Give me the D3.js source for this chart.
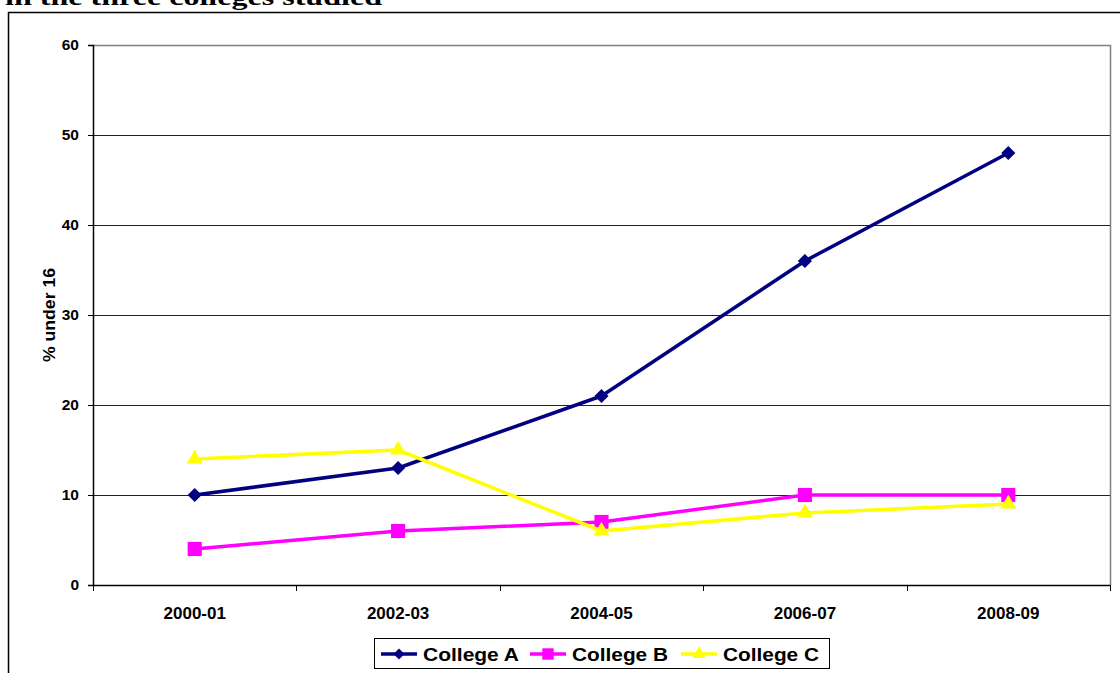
<!DOCTYPE html>
<html>
<head>
<meta charset="utf-8">
<script src="https://cdn.jsdelivr.net/npm/d3@7"></script>
<style>
  html, body { margin: 0; padding: 0; background: #fff; }
  svg { display: block; }
</style>
</head>
<body>
<svg id="chart" width="1120" height="673"></svg>
<script>
// Academic years on the x axis
const years = ["2000-01", "2002-03", "2004-05", "2006-07", "2008-09"];
// Percentage of students under 16, per college
const collegeA = [10, 13, 21, 36, 48];
const collegeB = [4, 6, 7, 10, 10];
const collegeC = [14, 15, 6, 8, 9];
const seriesNames = ["College A", "College B", "College C"];
const yTicks = [0, 10, 20, 30, 40, 50, 60];

const series = [
  { name: seriesNames[0], values: collegeA, color: "#000080", symbol: d3.symbolSquare, size: 100, rotate: 45, legendSize: 60 },
  { name: seriesNames[1], values: collegeB, color: "#FF00FF", symbol: d3.symbolSquare, size: 200, rotate: 0, legendSize: 130 },
  { name: seriesNames[2], values: collegeC, color: "#FFFF00", symbol: d3.symbolTriangle, size: 110, rotate: 0, legendSize: 80 }
];

const svg = d3.select("#chart");
const font = "Arial, 'Liberation Sans', sans-serif";

// Heading line (partly above the frame)
svg.append("text")
  .attr("x", 5).attr("y", 5)
  .attr("font-family", "'Times New Roman', 'Liberation Serif', serif")
  .attr("font-weight", "bold").attr("font-size", 24)
  .attr("textLength", 377).attr("lengthAdjust", "spacingAndGlyphs")
  .text("in the three colleges studied");

// Chart frame
svg.append("rect")
  .attr("x", 8.5).attr("y", 12.5).attr("width", 1130).attr("height", 700)
  .attr("fill", "none").attr("stroke", "#000").attr("stroke-width", 1.5);

const plot = { left: 93, top: 45, right: 1110, bottom: 585 };

const x = d3.scaleBand().domain(years).range([plot.left, plot.right]);
const y = d3.scaleLinear().domain([0, 60]).range([plot.bottom, plot.top]);

// Plot area border (top and right)
svg.append("path")
  .attr("d", `M${plot.left},${plot.top + 0.5}H${plot.right + 0.5}V${plot.bottom}`)
  .attr("fill", "none").attr("stroke", "#808080").attr("stroke-width", 1.5);

// Horizontal gridlines
svg.append("g")
  .selectAll("line")
  .data(yTicks.filter(t => t > 0 && t < 60))
  .join("line")
  .attr("x1", plot.left).attr("x2", plot.right)
  .attr("y1", d => Math.round(y(d)) + 0.5).attr("y2", d => Math.round(y(d)) + 0.5)
  .attr("stroke", "#222").attr("stroke-width", 1);

// Y axis
const yAxis = svg.append("g")
  .attr("transform", `translate(${plot.left},0)`)
  .call(d3.axisLeft(y).tickValues(yTicks).tickSize(5).tickPadding(9));
yAxis.select(".domain").attr("stroke", "#000").attr("stroke-width", 1.5);
yAxis.selectAll(".tick line").attr("stroke", "#000");
yAxis.selectAll("text")
  .attr("font-family", font).attr("font-weight", "bold").attr("font-size", 15.5).attr("fill", "#000");

// X axis with ticks between categories
const xAxis = svg.append("g")
  .attr("transform", `translate(0,${plot.bottom})`)
  .call(d3.axisBottom(x).tickSize(0).tickPadding(22));
xAxis.select(".domain").attr("stroke", "#000").attr("stroke-width", 1.5);
xAxis.selectAll("text")
  .attr("font-family", font).attr("font-weight", "bold").attr("font-size", 17).attr("fill", "#000");
const bounds = years.map(d => x(d)).concat([plot.right]);
xAxis.selectAll("line.sep")
  .data(bounds)
  .join("line").attr("class", "sep")
  .attr("x1", d => Math.round(d) + 0.5).attr("x2", d => Math.round(d) + 0.5)
  .attr("y1", 0).attr("y2", 6)
  .attr("stroke", "#000");

// Y axis title
svg.append("text")
  .attr("transform", `translate(55,${(plot.top + plot.bottom) / 2}) rotate(-90)`)
  .attr("text-anchor", "middle")
  .attr("font-family", font).attr("font-weight", "bold").attr("font-size", 16)
  .attr("textLength", 94).attr("lengthAdjust", "spacingAndGlyphs")
  .text("% under 16");

// Series lines and markers
const line = d3.line()
  .x((d, i) => x(years[i]) + x.bandwidth() / 2)
  .y(d => y(d));

series.forEach(s => {
  svg.append("path")
    .datum(s.values)
    .attr("d", line)
    .attr("fill", "none").attr("stroke", s.color).attr("stroke-width", 3.5)
    .attr("stroke-linejoin", "round");
  svg.append("g")
    .selectAll("path")
    .data(s.values)
    .join("path")
    .attr("transform", (d, i) => `translate(${x(years[i]) + x.bandwidth() / 2},${y(d)}) rotate(${s.rotate})`)
    .attr("d", d3.symbol().type(s.symbol).size(s.size))
    .attr("fill", s.color);
});

// Legend
const legend = svg.append("g");
legend.append("rect")
  .attr("x", 374.5).attr("y", 638.5).attr("width", 455).attr("height", 30)
  .attr("fill", "#fff").attr("stroke", "#000").attr("stroke-width", 1);
const legendX = [381, 530, 681];
series.forEach((s, i) => {
  const lx = legendX[i];
  legend.append("line")
    .attr("x1", lx).attr("x2", lx + 36).attr("y1", 654).attr("y2", 654)
    .attr("stroke", s.color).attr("stroke-width", 3.5);
  legend.append("path")
    .attr("transform", `translate(${lx + 18},654) rotate(${s.rotate})`)
    .attr("d", d3.symbol().type(s.symbol).size(s.legendSize))
    .attr("fill", s.color);
  legend.append("text")
    .attr("x", lx + 42).attr("y", 661)
    .attr("font-family", font).attr("font-weight", "bold").attr("font-size", 19)
    .attr("textLength", 96).attr("lengthAdjust", "spacingAndGlyphs")
    .text(s.name);
});
</script>
</body>
</html>
